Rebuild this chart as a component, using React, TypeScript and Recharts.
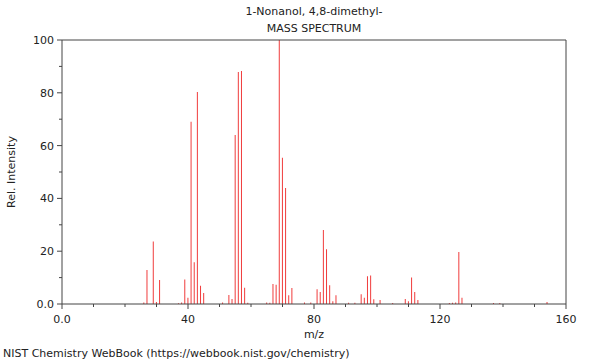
import { Bar, ComposedChart, ReferenceLine, XAxis, YAxis } from "recharts"

const compoundName = "1-Nonanol, 4,8-dimethyl-"
const chartTitle = "MASS SPECTRUM"
const footerText = "NIST Chemistry WebBook (https://webbook.nist.gov/chemistry)"

const mzValues = [
  26, 27, 29, 30, 31, 37, 38, 39, 40, 41, 42, 43, 44, 45, 51, 53, 54, 55, 56,
  57, 58, 59, 65, 66, 67, 68, 69, 70, 71, 72, 73, 77, 79, 81, 82, 83, 84, 85,
  86, 87, 91, 93, 95, 96, 97, 98, 99, 101, 105, 109, 110, 111, 112, 113, 123,
  124, 125, 126, 127, 137, 139, 154,
]
const intensities = [
  0.6, 12.9, 23.7, 0.8, 9.1, 0.3, 0.6, 9.3, 2.4, 69, 15.8, 80.3, 6.9, 4.2, 0.6,
  3.4, 1.9, 64, 87.9, 88.3, 6.2, 0.5, 0.6, 0.5, 7.6, 7.3, 100, 55.4, 43.9, 3.3,
  6.1, 0.6, 0.6, 5.6, 4.5, 28, 20.7, 7.1, 1, 3.3, 0.5, 0.5, 3.7, 2.4, 10.5,
  10.8, 1.8, 1.5, 0.4, 1.9, 1, 10, 4.5, 1.5, 0.4, 0.5, 0.6, 19.7, 2.4, 0.4,
  0.4, 0.8,
]

const xTicks = [0, 10, 20, 30, 40, 50, 60, 70, 80, 90, 100, 110, 120, 130, 140, 150, 160]
const yTicks = [0, 10, 20, 30, 40, 50, 60, 70, 80, 90, 100]

const peaks = mzValues.map((mz, i) => ({ mz, intensity: intensities[i] }))

const font = "'DejaVu Sans', sans-serif"
const axisColor = "#444"

function XTick({ x, y, payload }: any) {
  const v = payload.value
  const major = v % 40 === 0
  return (
    <g>
      <line x1={x} x2={x} y1={y} y2={y + (major ? 5 : 3)} stroke={axisColor} />
      {major && (
        <text x={x} y={y + 19} textAnchor="middle" fontSize={11} fontFamily={font} fill="#222">
          {v === 0 ? "0.0" : v}
        </text>
      )}
    </g>
  )
}

function YTick({ x, y, payload }: any) {
  const v = payload.value
  const major = v % 20 === 0
  return (
    <g>
      <line x1={x - (major ? 5 : 3)} x2={x} y1={y} y2={y} stroke={axisColor} />
      {major && (
        <text x={x - 8} y={y + 4} textAnchor="end" fontSize={11} fontFamily={font} fill="#222">
          {v === 0 ? "0.0" : v}
        </text>
      )}
    </g>
  )
}

export default function App() {
  return (
    <div
      style={{
        position: "absolute",
        left: 0,
        top: 0,
        width: 600,
        height: 360,
        background: "#fff",
        fontFamily: font,
        color: "#222",
      }}
    >
      <div style={{ position: "absolute", left: 62, width: 504, top: 5, textAlign: "center", fontSize: 11 }}>
        {compoundName}
      </div>
      <div style={{ position: "absolute", left: 62, width: 504, top: 22, textAlign: "center", fontSize: 11 }}>
        {chartTitle}
      </div>
      <ComposedChart
        width={600}
        height={360}
        data={peaks}
        margin={{ top: 40, right: 34, bottom: 0, left: 0 }}
      >
        <XAxis
          dataKey="mz"
          type="number"
          domain={[0, 160]}
          ticks={xTicks}
          interval={0}
          height={56}
          tickSize={0}
          tickMargin={0}
          tick={<XTick />}
          stroke={axisColor}
          label={{ value: "m/z", position: "insideBottom", offset: 22, fontSize: 11, fontFamily: font, fill: "#222" }}
        />
        <YAxis
          type="number"
          domain={[0, 100]}
          ticks={yTicks}
          interval={0}
          width={62}
          tickSize={0}
          tickMargin={0}
          tick={<YTick />}
          stroke={axisColor}
          label={{ value: "Rel. Intensity", angle: -90, position: "insideLeft", offset: 11, fontSize: 11, fontFamily: font, fill: "#222", style: { textAnchor: "middle" } }}
        />
        <ReferenceLine y={100} stroke={axisColor} ifOverflow="visible" />
        <ReferenceLine x={160} stroke={axisColor} ifOverflow="visible" />
        <Bar dataKey="intensity" fill="#f03c3c" barSize={1} isAnimationActive={false} />
      </ComposedChart>
      <div style={{ position: "absolute", left: 3, top: 347, fontSize: 11 }}>{footerText}</div>
    </div>
  )
}
